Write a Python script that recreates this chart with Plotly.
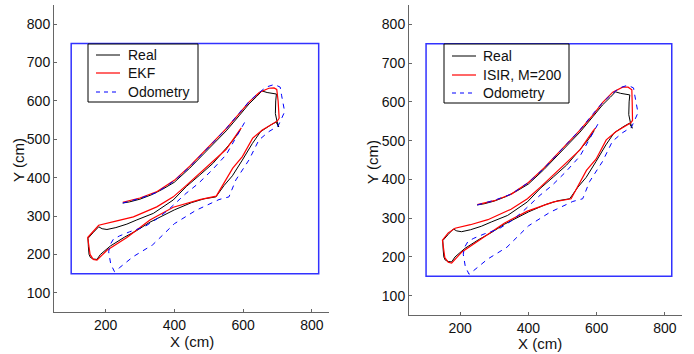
import plotly.graph_objects as go

# ---------------- data (cm) ----------------
real_x = [250, 270, 300, 335, 366, 400, 445, 493, 530, 551, 590, 617, 640, 655, 670, 690, 697,
          695, 694, 699, 704, 696, 680, 651, 627, 598, 569, 545, 527, 521,
          487, 450, 400, 360, 329, 290, 255, 214, 202, 185, 175, 165, 156, 152, 150, 149,
          165, 180, 190, 204, 230, 262, 291, 339, 397, 435, 474, 512, 551, 575, 593]
real_y = [334, 337, 344, 356, 370, 388, 425, 468, 502, 522, 563, 592, 612, 626, 622, 620, 618,
          600, 567, 546, 532, 545, 537, 520, 489, 446, 405, 380, 355, 350,
          345, 335, 316, 298, 284, 262, 245, 222, 212, 200, 187, 188, 192, 200, 220, 242,
          258, 272, 267, 265, 270, 279, 290, 307, 342, 377, 407, 437, 477, 502, 526]

ekf_x = [250, 300, 350, 400, 445, 493, 530, 551, 590, 617, 647, 675, 690, 698, 702, 705,
         700, 680, 656, 628, 598, 570, 545, 522, 474, 397, 329, 262, 204, 175, 164, 155, 148,
         165, 180, 230, 281, 349, 397, 435, 474, 512, 551, 590, 595]
ekf_y = [336, 347, 364, 393, 430, 474, 507, 528, 568, 597, 622, 633, 634, 630, 600, 555,
         548, 537, 524, 503, 455, 425, 385, 352, 343, 323, 290, 244, 211, 185, 187, 200, 244,
         262, 276, 287, 298, 324, 350, 380, 411, 441, 474, 524, 530]

isir_x = [250, 300, 350, 400, 445, 493, 530, 551, 590, 617, 647, 676, 692, 703, 704, 705,
          700, 680, 656, 628, 598, 570, 545, 525, 474, 397, 329, 262, 204, 175, 165, 155, 148,
          165, 185, 230, 281, 349, 397, 435, 474, 512, 551, 590, 597]
isir_y = [335, 345, 362, 392, 429, 473, 506, 527, 567, 598, 625, 638, 638, 631, 600, 552,
          546, 535, 523, 502, 452, 423, 383, 350, 342, 318, 287, 246, 212, 184, 186, 198, 243,
          262, 274, 283, 296, 323, 350, 380, 412, 442, 476, 526, 533]

odo_x = [250, 300, 350, 400, 445, 493, 530, 551, 590, 617, 640, 667, 691, 708, 712, 721, 710, 702,
         675, 646, 617, 590, 579, 559, 530, 463, 400, 337, 280, 240, 226, 215, 209, 213, 223,
         240, 270, 313, 350, 381, 434, 470, 510, 551, 590, 607]
odo_y = [334, 346, 362, 392, 428, 473, 506, 528, 570, 598, 617, 636, 643, 636, 615, 572, 550, 535,
         520, 498, 446, 408, 394, 350, 343, 315, 280, 225, 194, 165, 155, 175, 207, 225, 240,
         248, 259, 272, 293, 315, 359, 385, 420, 460, 520, 548]

room_x = [100, 820]
room_y = [150, 750]

x_ticks = [200, 400, 600, 800]
y_ticks = [100, 200, 300, 400, 500, 600, 700, 800]
axis_range = [50, 850]

FONT = "Liberation Sans, Arial, sans-serif"
W, H = 694, 354

REAL_STYLE = dict(color="black", width=1)
FILT_STYLE = dict(color="red", width=1.2)
ODO_STYLE = dict(color="blue", width=1, dash="5px,5px")
LEG_STYLES = [
    dict(color="black", width=1),
    dict(color="red", width=1.2),
    dict(color="blue", width=1.2, dash="4px,4px"),
]

fig = go.Figure()


def add_panel(fig, idx, filt_x, filt_y, filt_name):
    xa = "x" if idx == 1 else "x2"
    ya = "y" if idx == 1 else "y2"
    traces = [
        go.Scatter(x=real_x, y=real_y, mode="lines", name="Real", line=REAL_STYLE),
        go.Scatter(x=filt_x, y=filt_y, mode="lines", name=filt_name, line=FILT_STYLE),
        go.Scatter(x=odo_x, y=odo_y, mode="lines", name="Odometry", line=ODO_STYLE),
    ]
    for t in traces:
        t.update(xaxis=xa, yaxis=ya, showlegend=False)
        fig.add_trace(t)
    fig.add_shape(type="rect", xref=xa, yref=ya, x0=room_x[0], x1=room_x[1],
                  y0=room_y[0], y1=room_y[1], line=dict(color="rgb(50,50,255)", width=1.5),
                  layer="below")
    return [t.name for t in traces]


def add_legend(fig, names, box, line_x, text_x, rows):
    bx0, by0, bx1, by1 = box
    fig.add_shape(type="rect", xref="paper", yref="paper",
                  x0=bx0 / W, x1=bx1 / W, y0=1 - by1 / H, y1=1 - by0 / H,
                  line=dict(color="black", width=1), fillcolor="white", layer="above")
    for name, st, ry in zip(names, LEG_STYLES, rows):
        fig.add_shape(type="line", xref="paper", yref="paper",
                      x0=line_x[0] / W, x1=line_x[1] / W, y0=1 - ry / H, y1=1 - ry / H,
                      line=st, layer="above")
        fig.add_annotation(xref="paper", yref="paper", x=text_x / W, y=1 - ry / H,
                           text=name, showarrow=False, xanchor="left", yanchor="middle",
                           font=dict(family=FONT, size=14, color="#111"))


names1 = add_panel(fig, 1, ekf_x, ekf_y, "EKF")
names2 = add_panel(fig, 2, isir_x, isir_y, "ISIR, M=200")

add_legend(fig, names1, (88, 44, 198, 102), (96, 120), 126, (55, 73, 92))
add_legend(fig, names2, (444, 44, 569, 103), (452, 476), 481, (56, 75, 93))

axis_common = dict(range=axis_range, showgrid=False, zeroline=False, showline=True,
                   linecolor="#666", linewidth=1, ticks="inside", ticklen=3,
                   tickcolor="#666", automargin=False,
                   tickfont=dict(family=FONT, size=14, color="#111"))

lx0, lx1 = 54 / W, 329 / W
rx0, rx1 = 409 / W, 682 / W
ly0, ly1 = 1 - 312 / H, 1 - 5 / H
ry0, ry1 = 1 - 315 / H, 1 - 5 / H

fig.update_layout(
    width=W, height=H, margin=dict(l=0, r=0, t=0, b=0, autoexpand=False),
    paper_bgcolor="white", plot_bgcolor="white",
    font=dict(family=FONT, size=14, color="#111"),
    xaxis=dict(domain=[lx0, lx1], anchor="y", tickvals=x_ticks, **axis_common),
    yaxis=dict(domain=[ly0, ly1], anchor="x", tickvals=y_ticks, **axis_common),
    xaxis2=dict(domain=[rx0, rx1], anchor="y2", tickvals=x_ticks, **axis_common),
    yaxis2=dict(domain=[ry0, ry1], anchor="x2", tickvals=y_ticks, **axis_common),
    showlegend=False,
)

anns = [
    dict(text="X (cm)", x=192 / W, y=1 - 341 / H),
    dict(text="X (cm)", x=540 / W, y=1 - 343 / H),
    dict(text="Y (cm)", x=18 / W, y=1 - 160 / H, textangle=-90),
    dict(text="Y (cm)", x=372 / W, y=1 - 162 / H, textangle=-90),
]
for a in anns:
    fig.add_annotation(xref="paper", yref="paper", showarrow=False,
                       xanchor="center", yanchor="middle",
                       font=dict(family=FONT, size=15, color="#111"), **a)

fig.write_html("out.html", config={"displayModeBar": False},
               post_script="document.body.style.margin='0';document.body.style.overflow='hidden';")
